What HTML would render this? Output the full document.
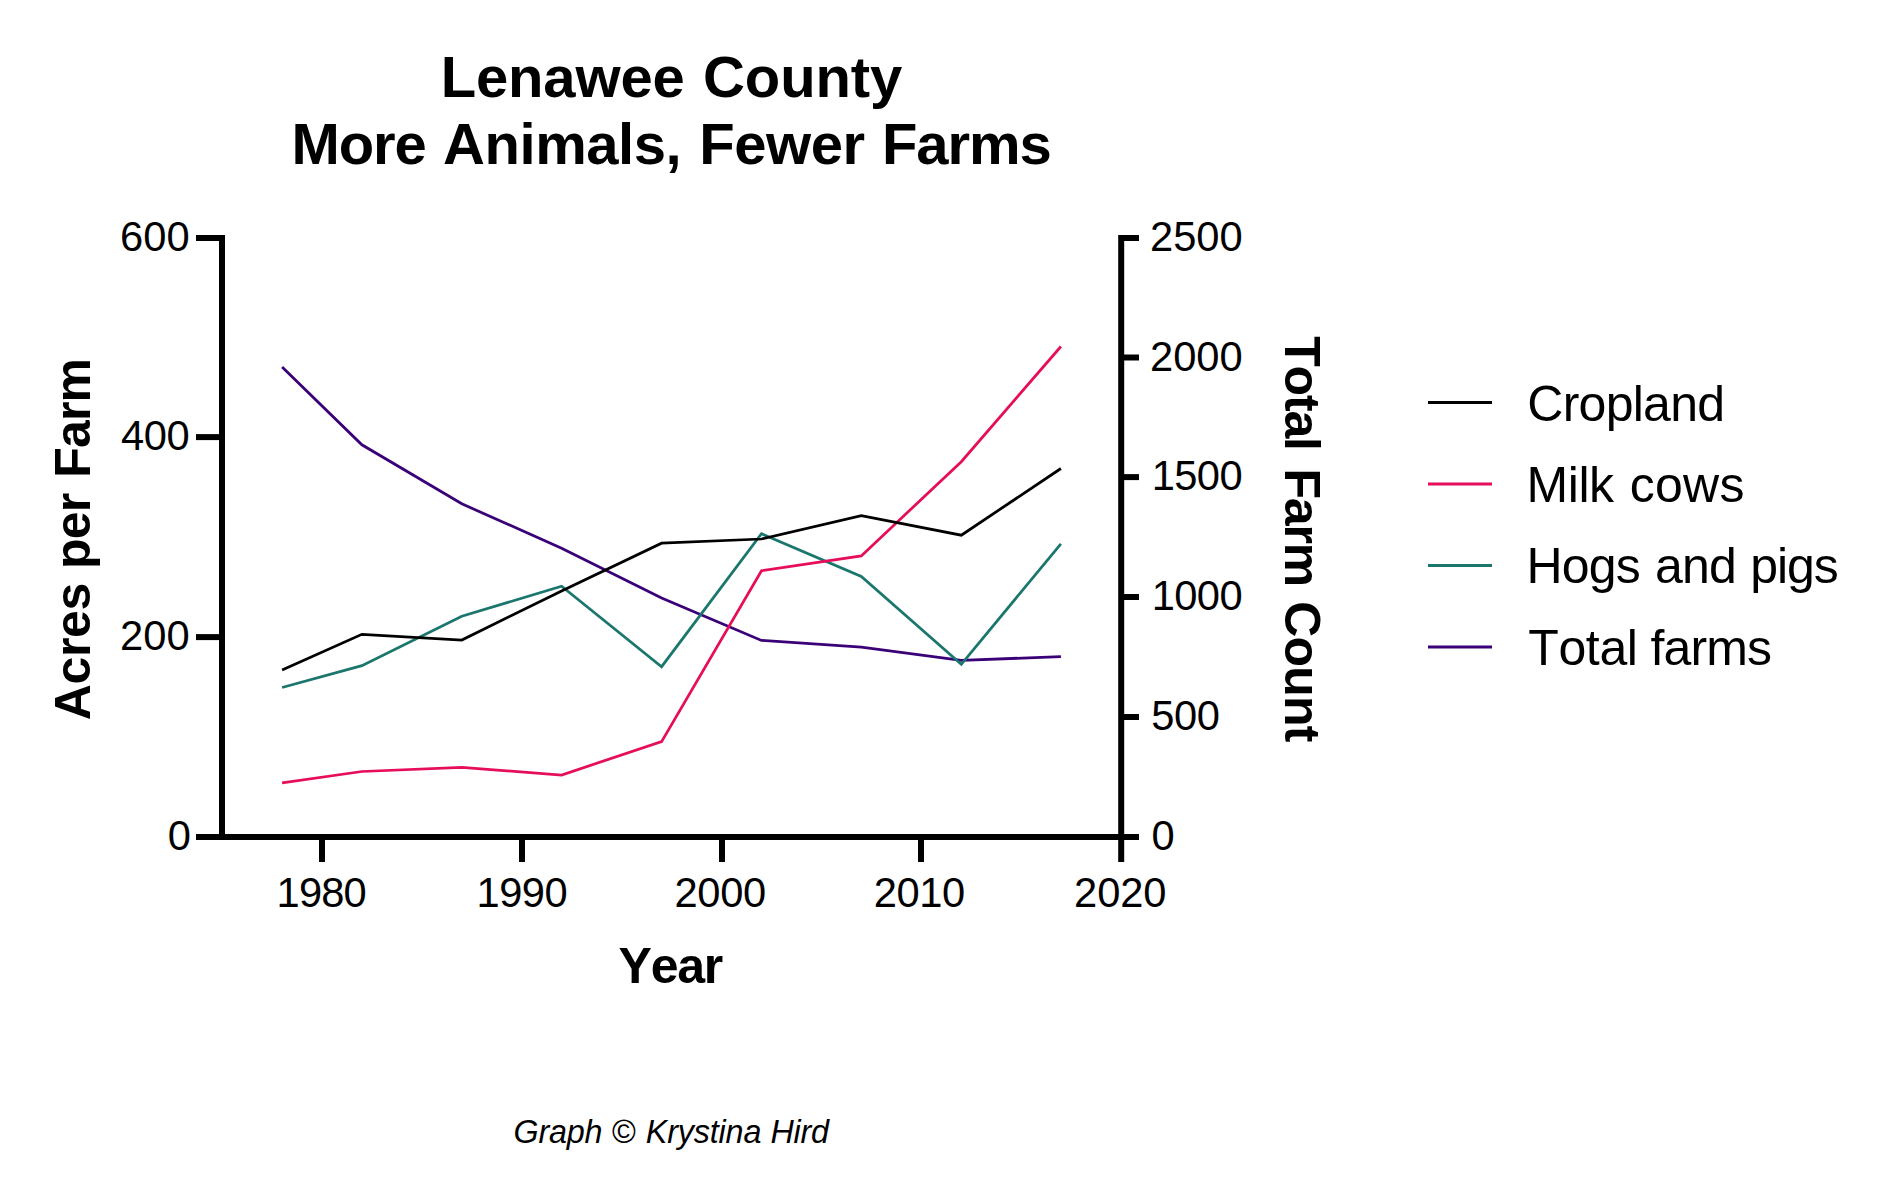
<!DOCTYPE html>
<html lang="en">
<head>
<meta charset="utf-8">
<title>Lenawee County - More Animals, Fewer Farms</title>
<style>
  html, body { margin: 0; padding: 0; background: #ffffff; }
  body { width: 1883px; height: 1194px; overflow: hidden; }
  svg { display: block; }
  text { font-family: "Liberation Sans", Arial, Helvetica, sans-serif; fill: #000; white-space: pre; font-kerning: none; }
  .ser { fill: none; stroke-width: 2.75; stroke-linejoin: miter; stroke-linecap: butt; }
</style>
</head>
<body>
<svg width="1883" height="1194" viewBox="0 0 1883 1194">
  <rect x="0" y="0" width="1883" height="1194" fill="#ffffff"/>
  <!-- data series (bottom to top) -->
  <polyline class="ser" stroke="#3a0078" points="282.1,367.1 361.9,444.8 461.8,503.8 561.6,548.2 661.6,597.9 761.5,640.4 861.3,647.1 961.3,660.3 1060.9,656.7"/>
  <polyline class="ser" stroke="#1b776d" points="282.1,687.5 361.9,665.7 461.8,616.2 561.6,586.2 661.6,666.7 761.5,533.7 861.3,576.5 961.3,664.4 1060.9,543.8"/>
  <polyline class="ser" stroke="#e60d5a" points="282.1,782.9 361.9,771.5 461.8,767.4 561.6,775.0 661.6,741.6 761.5,570.8 861.3,555.9 961.3,461.7 1060.9,346.5"/>
  <polyline class="ser" stroke="#000000" points="282.1,670.1 361.9,634.3 461.8,640.0 561.6,591.0 661.6,543.2 761.5,539.0 861.3,515.6 961.3,535.2 1060.9,468.5"/>
  <!-- axes and ticks -->
  <g fill="#000">
    <rect x="219" y="235" width="6" height="605"/>
    <rect x="196" y="834" width="928" height="6"/>
    <rect x="1118.2" y="235" width="6" height="627"/>
    <rect x="196" y="235" width="26" height="6"/>
    <rect x="196" y="434.1" width="26" height="6"/>
    <rect x="196" y="634.1" width="26" height="6"/>
    <rect x="1121" y="235" width="18" height="6"/>
    <rect x="1121" y="354.5" width="18" height="6"/>
    <rect x="1121" y="474.1" width="18" height="6"/>
    <rect x="1121" y="594" width="18" height="6"/>
    <rect x="1121" y="714" width="18" height="6"/>
    <rect x="1121" y="834" width="18" height="6"/>
    <rect x="319" y="837" width="6" height="25"/>
    <rect x="519" y="837" width="6" height="25"/>
    <rect x="719" y="837" width="6" height="25"/>
    <rect x="918" y="837" width="6" height="25"/>
  </g>
  <!-- legend keys -->
  <g stroke-width="3" fill="none">
    <line x1="1428" x2="1492" y1="402.5" y2="402.5" stroke="#000000"/>
    <line x1="1428" x2="1492" y1="484" y2="484" stroke="#e60d5a"/>
    <line x1="1428" x2="1492" y1="565.5" y2="565.5" stroke="#1b776d"/>
    <line x1="1428" x2="1492" y1="646.9" y2="646.9" stroke="#3a0078"/>
  </g>
  <!-- all text -->
  <text y="97.3" font-size="58" font-weight="bold"><tspan x="440.70" letter-spacing="-0.157">Lenawee</tspan> <tspan x="703.10" letter-spacing="-0.117">County</tspan></text>
  <text y="163.7" font-size="58" font-weight="bold"><tspan x="291.50" letter-spacing="-1.138">More</tspan> <tspan x="443.00" letter-spacing="-0.433">Animals,</tspan> <tspan x="699.30" letter-spacing="-0.489">Fewer</tspan> <tspan x="882.00" letter-spacing="-1.057">Farms</tspan></text>
  <text y="982.9" font-size="50" font-weight="bold"><tspan x="618.60" letter-spacing="-1.255">Year</tspan></text>
  <text y="0" font-size="50" font-weight="bold" transform="translate(89.8,0) rotate(-90)"><tspan x="-720.30" letter-spacing="-0.32">Acres</tspan> <tspan x="-569.00" letter-spacing="-0.775">per</tspan> <tspan x="-477.80" letter-spacing="-0.803">Farm</tspan></text>
  <text y="0" font-size="50" font-weight="bold" transform="translate(1285.1,0) rotate(90)"><tspan x="336.20" letter-spacing="-1.16">Total</tspan> <tspan x="468.50" letter-spacing="-1.203">Farm</tspan> <tspan x="601.30" letter-spacing="-0.809">Count</tspan></text>
  <text y="420.9" font-size="50"><tspan x="1527.30" letter-spacing="-0.743">Cropland</tspan></text>
  <text y="502.4" font-size="50"><tspan x="1526.60" letter-spacing="-0.456">Milk</tspan> <tspan x="1629.80" letter-spacing="0.228">cows</tspan></text>
  <text y="583.4" font-size="50"><tspan x="1526.60" letter-spacing="-0.875">Hogs</tspan> <tspan x="1655.00" letter-spacing="-0.808">and</tspan> <tspan x="1750.30" letter-spacing="-1.075">pigs</tspan></text>
  <text y="665.0" font-size="50"><tspan x="1528.30" letter-spacing="-0.387">Total</tspan> <tspan x="1650.50" letter-spacing="-0.875">farms</tspan></text>
  <text y="1142.7" font-size="32.3" font-style="italic"><tspan x="513.50" letter-spacing="-0.175">Graph</tspan> <tspan x="611.60">©</tspan> <tspan x="645.80" letter-spacing="-0.158">Krystina</tspan> <tspan x="770.40" letter-spacing="-0.185">Hird</tspan></text>
  <text y="0" font-size="41.7" transform="translate(0,250.6) scale(1,1.025)"><tspan x="119.90" letter-spacing="0.165">600</tspan></text>
  <text y="0" font-size="41.7" transform="translate(0,450.0) scale(1,1.025)"><tspan x="121.00" letter-spacing="-0.385">400</tspan></text>
  <text y="0" font-size="41.7" transform="translate(0,649.9) scale(1,1.025)"><tspan x="119.90" letter-spacing="0.165">200</tspan></text>
  <text y="0" font-size="41.7" transform="translate(0,849.6) scale(1,1.025)"><tspan x="167.70">0</tspan></text>
  <text y="0" font-size="41.7" transform="translate(0,250.6) scale(1,1.025)"><tspan x="1150.10" letter-spacing="-0.085">2500</tspan></text>
  <text y="0" font-size="41.7" transform="translate(0,370.5) scale(1,1.025)"><tspan x="1150.00" letter-spacing="-0.051">2000</tspan></text>
  <text y="0" font-size="41.7" transform="translate(0,490.2) scale(1,1.025)"><tspan x="1151.80" letter-spacing="-0.651">1500</tspan></text>
  <text y="0" font-size="41.7" transform="translate(0,610.1) scale(1,1.025)"><tspan x="1151.80" letter-spacing="-0.651">1000</tspan></text>
  <text y="0" font-size="41.7" transform="translate(0,729.9) scale(1,1.025)"><tspan x="1151.30" letter-spacing="-0.435">500</tspan></text>
  <text y="0" font-size="41.7" transform="translate(0,849.6) scale(1,1.025)"><tspan x="1151.60">0</tspan></text>
  <text y="0" font-size="41.7" transform="translate(0,907.2) scale(1,1.025)"><tspan x="276.60" letter-spacing="-0.851">1980</tspan></text>
  <text y="0" font-size="41.7" transform="translate(0,907.2) scale(1,1.025)"><tspan x="476.60" letter-spacing="-0.585">1990</tspan></text>
  <text y="0" font-size="41.7" transform="translate(0,907.2) scale(1,1.025)"><tspan x="674.40" letter-spacing="-0.285">2000</tspan></text>
  <text y="0" font-size="41.7" transform="translate(0,907.2) scale(1,1.025)"><tspan x="873.70" letter-spacing="-0.418">2010</tspan></text>
  <text y="0" font-size="41.7" transform="translate(0,907.2) scale(1,1.025)"><tspan x="1074.10" letter-spacing="-0.118">2020</tspan></text>
</svg>
</body>
</html>
